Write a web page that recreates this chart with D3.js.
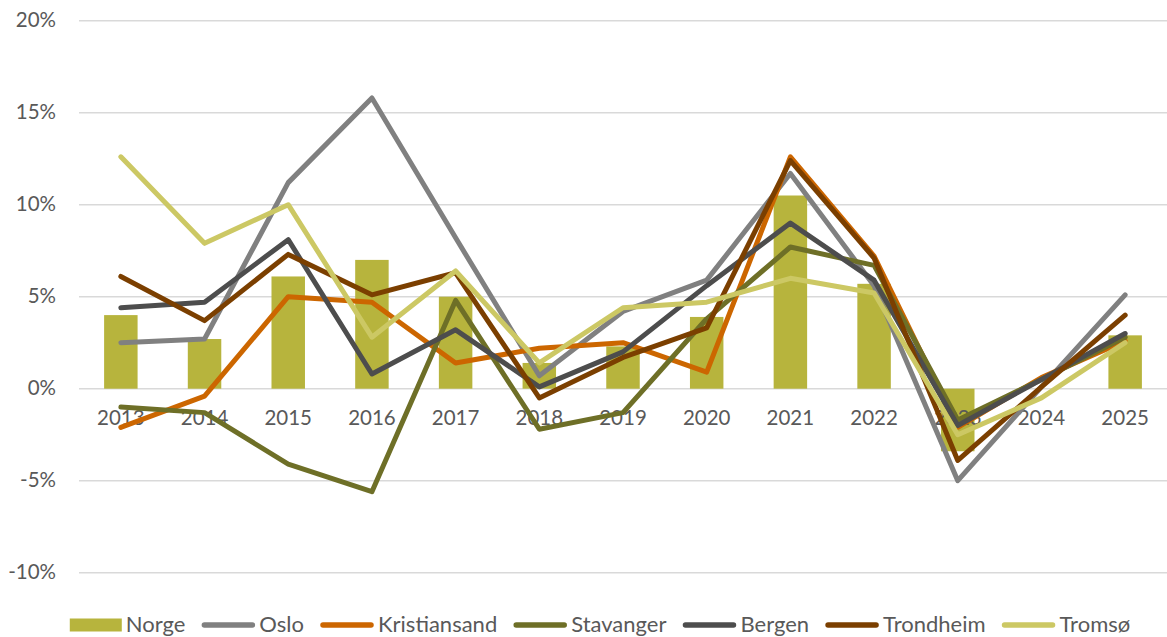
<!DOCTYPE html>
<meta charset="utf-8">
<script src="https://cdn.jsdelivr.net/npm/d3@7"></script>
<style>
  body { margin: 0; background: #fff; }
  text { font-family: Lato, "Open Sans", sans-serif; fill: #595959; }
</style>
<body>
<script>

var width = 1167
var height = 637

// data, percent change per year
var years = ["2013","2014","2015","2016","2017","2018","2019","2020","2021","2022","2023","2024","2025"]
var norge        = [4.0, 2.7, 6.1, 7.0, 5.0, 1.4, 2.3, 3.9, 10.5, 5.7, -3.4, 0.0, 2.9]
var oslo         = [2.5, 2.7, 11.2, 15.8, 8.2, 0.7, 4.2, 5.9, 11.7, 5.6, -5.0, 0.1, 5.1]
var kristiansand = [-2.1, -0.4, 5.0, 4.7, 1.4, 2.2, 2.5, 0.9, 12.6, 7.2, -2.1, 0.6, 2.6]
var stavanger    = [-1.0, -1.3, -4.1, -5.6, 4.8, -2.2, -1.3, 3.8, 7.7, 6.7, -1.7, 0.5, 2.8]
var bergen       = [4.4, 4.7, 8.1, 0.8, 3.2, 0.1, 2.0, 5.6, 9.0, 5.9, -2.0, 0.5, 3.0]
var trondheim    = [6.1, 3.7, 7.3, 5.1, 6.3, -0.5, 1.7, 3.3, 12.4, 7.1, -3.9, 0.1, 4.0]
var tromso       = [12.6, 7.9, 10.0, 2.8, 6.4, 1.4, 4.4, 4.7, 6.0, 5.2, -2.5, -0.5, 2.5]
var yTicks = [-10, -5, 0, 5, 10, 15, 20]

var lineSeries = [
  {name: "Oslo", values: oslo, color: "#808080"},
  {name: "Kristiansand", values: kristiansand, color: "#CC6600"},
  {name: "Stavanger", values: stavanger, color: "#6E6F27"},
  {name: "Bergen", values: bergen, color: "#4D4D4D"},
  {name: "Trondheim", values: trondheim, color: "#7B3F00"},
  {name: "Tromsø", values: tromso, color: "#CCC864"}
]
var barColor = "#B7B43D"

var x = d3.scaleBand().domain(years).range([79, 1167]).paddingInner(0.6).paddingOuter(0.3)
var xp = d3.scalePoint().domain(years).range([79, 1167]).padding(0.5)
var y = d3.scaleLinear().domain([-10, 20]).range([572.7, 20.7])

var svg = d3.select("body").append("svg")
            .attr("width", width)
            .attr("height", height)

// gridlines
svg.append("g")
   .selectAll("line")
   .data(yTicks)
   .enter().append("line")
   .attr("x1", 79).attr("x2", 1167)
   .attr("y1", d => y(d)).attr("y2", d => y(d))
   .attr("stroke", "#D9D9D9")
   .attr("stroke-width", 1.4)

// y labels
svg.append("g")
   .selectAll("text")
   .data(yTicks)
   .enter().append("text")
   .attr("x", 56)
   .attr("y", d => y(d) + 1)
   .attr("text-anchor", "end")
   .attr("dominant-baseline", "middle")
   .style("font-size", "20.5px")
   .text(d => d + "%")

// bars
svg.append("g")
   .selectAll("rect")
   .data(norge)
   .enter().append("rect")
   .attr("x", (d, i) => x(years[i]))
   .attr("width", x.bandwidth())
   .attr("y", d => y(Math.max(0, d)))
   .attr("height", d => Math.abs(y(d) - y(0)))
   .attr("fill", barColor)

// x labels, sit under the lines
svg.append("g")
   .selectAll("text")
   .data(years)
   .enter().append("text")
   .attr("x", d => xp(d))
   .attr("y", y(0) + 31)
   .attr("text-anchor", "middle")
   .attr("dominant-baseline", "middle")
   .style("font-size", "20.5px")
   .text(d => d)

var line = d3.line()
             .x((d, i) => xp(years[i]))
             .y(d => y(d))

svg.append("g")
   .selectAll("path")
   .data(lineSeries)
   .enter().append("path")
   .attr("d", d => line(d.values))
   .attr("fill", "none")
   .attr("stroke", d => d.color)
   .attr("stroke-width", 5)
   .attr("stroke-linejoin", "round")
   .attr("stroke-linecap", "round")

// legend
var legend = svg.append("g")
var ly = 625
var cx = 0
var items = [{name: "Norge", color: barColor, bar: true}].concat(lineSeries)
items.forEach(function(it, i) {
  var g = legend.append("g")
  if (it.bar) {
    g.append("rect").attr("x", cx).attr("y", ly - 6.5).attr("width", 52).attr("height", 13).attr("fill", it.color)
    cx += 52
  } else {
    g.append("line").attr("x1", cx + 3).attr("x2", cx + 51).attr("y1", ly).attr("y2", ly)
     .attr("stroke", it.color).attr("stroke-width", 5.5).attr("stroke-linecap", "round")
    cx += 54
  }
  var t = g.append("text").attr("x", cx + 4).attr("y", ly + 1)
           .attr("dominant-baseline", "middle")
           .style("font-size", "22px")
           .text(it.name)
  cx += 4 + t.node().getComputedTextLength() + 16
})
var total = cx - 16
legend.attr("transform", "translate(" + (600 - total / 2) + ",0)")

</script>
</body>
